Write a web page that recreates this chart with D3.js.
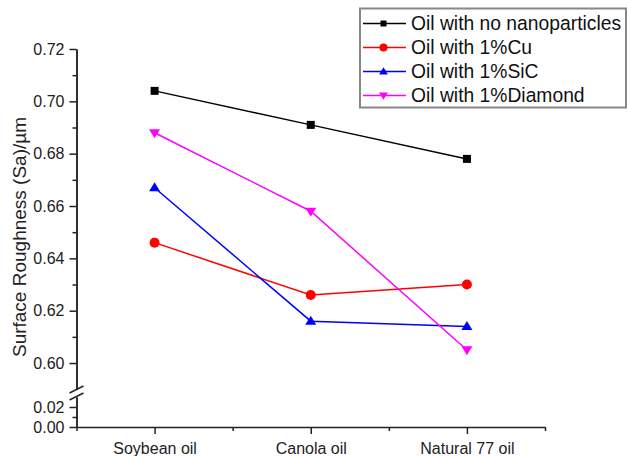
<!DOCTYPE html>
<html>
<head>
<meta charset="utf-8">
<script src="https://cdn.jsdelivr.net/npm/d3@7"></script>
<style>
  html, body { margin: 0; padding: 0; background: #fff; }
  svg { display: block; font-family: 'Liberation Sans', Arial, sans-serif; }
</style>
</head>
<body>
<svg id="chart" width="627" height="456"></svg>
<script>
const categories = ['Soybean oil', 'Canola oil', 'Natural 77 oil']
const noParticles = [0.704, 0.691, 0.678]
const cuValues = [0.646, 0.626, 0.630]
const sicValues = [0.667, 0.616, 0.614]
const diamondValues = [0.688, 0.658, 0.605]
const seriesNames = ['Oil with no nanoparticles', 'Oil with 1%Cu', 'Oil with 1%SiC', 'Oil with 1%Diamond']
const upperTicks = [0.60, 0.62, 0.64, 0.66, 0.68, 0.70, 0.72]
const upperMinor = [0.61, 0.63, 0.65, 0.67, 0.69, 0.71]
const lowerTicks = [0.00, 0.02]
const lowerMinor = [0.01]

const colors = ['#000000', '#ff0000', '#0000ff', '#ff00ff']
const symbols = ['square', 'circle', 'up', 'down']

const series = [noParticles, cuValues, sicValues, diamondValues].map((values, i) => ({
  name: seriesNames[i],
  color: colors[i],
  symbol: symbols[i],
  values: values.map((v, j) => ({ cat: categories[j], value: v })),
}))

const svg = d3.select('#chart')

// x: categories on a point scale, axis from 76.5 to 545
const x = d3.scalePoint().domain(categories).range([76.5, 545]).padding(0.5)
const xMinor = d3.scaleLinear().domain([-0.5, categories.length - 0.5]).range([76.5, 545])

// y: broken axis, upper part 0.59-0.72 and lower part 0-0.03
const yTop = d3.scaleLinear().domain([0.59, 0.72]).range([389.2, 49])
const yBottom = d3.scaleLinear().domain([0, 0.03]).range([427, 397])

const axisColor = '#222'
const fmt = d3.format('.2f')

function styleAxis(g) {
  g.selectAll('path, line').attr('stroke', axisColor).attr('stroke-width', 1.5)
  g.selectAll('text').attr('fill', '#222').style('font-size', '16px').style('font-family', 'Liberation Sans, Arial, sans-serif')
}

// y axes
svg.append('g')
  .attr('transform', 'translate(76.5,0)')
  .call(d3.axisLeft(yTop).tickValues(upperTicks).tickFormat(fmt).tickSize(7).tickSizeOuter(0).tickPadding(5))
  .call(styleAxis)
svg.append('g')
  .attr('transform', 'translate(76.5,0)')
  .call(d3.axisLeft(yTop).tickValues(upperMinor).tickFormat('').tickSize(4).tickSizeOuter(0))
  .call(styleAxis)
svg.append('g')
  .attr('transform', 'translate(76.5,0)')
  .call(d3.axisLeft(yBottom).tickValues(lowerTicks).tickFormat(fmt).tickSize(7).tickSizeOuter(0).tickPadding(5))
  .call(styleAxis)
svg.append('g')
  .attr('transform', 'translate(76.5,0)')
  .call(d3.axisLeft(yBottom).tickValues(lowerMinor).tickFormat('').tickSize(4).tickSizeOuter(0))
  .call(styleAxis)

// break marks
const breakMarks = svg.append('g').attr('stroke', axisColor).attr('stroke-width', 1.5)
;[389.5, 396.5].forEach((cy) => {
  breakMarks.append('line')
    .attr('x1', 69.5).attr('y1', cy + 3.5)
    .attr('x2', 83.5).attr('y2', cy - 3.5)
})

// x axis
svg.append('g')
  .attr('transform', 'translate(0,427)')
  .call(d3.axisBottom(x).tickSize(7).tickSizeOuter(0).tickPadding(9))
  .call(styleAxis)
svg.append('g')
  .attr('transform', 'translate(0,427)')
  .call(d3.axisBottom(xMinor).tickValues(d3.range(-0.5, categories.length, 1)).tickFormat('').tickSize(4).tickSizeOuter(0))
  .call(styleAxis)
  .select('.domain').remove()

// y title
svg.append('text')
  .attr('transform', 'translate(26,237) rotate(-90)')
  .attr('text-anchor', 'middle')
  .attr('fill', '#222')
  .style('font-size', '19px')
  .text('Surface Roughness (Sa)/µm')

function symbolPath(type, size) {
  if (type === 'square') return d3.symbol(d3.symbolSquare, size * size)()
  if (type === 'circle') return d3.symbol(d3.symbolCircle, Math.PI * size * size / 4)()
  const h = size * 0.9
  const w = size * 1.1
  if (type === 'up') return `M0,${-h * 0.6}L${w / 2},${h * 0.4}L${-w / 2},${h * 0.4}Z`
  return `M0,${h * 0.6}L${w / 2},${-h * 0.4}L${-w / 2},${-h * 0.4}Z`
}

const line = d3.line()
  .x((d) => x(d.cat))
  .y((d) => yTop(d.value))

const groups = svg.append('g').selectAll('g.series')
  .data(series)
  .enter()
  .append('g')
  .attr('class', 'series')

groups.append('path')
  .attr('fill', 'none')
  .attr('stroke', (d) => d.color)
  .attr('stroke-width', 1.5)
  .attr('d', (d) => line(d.values))

groups.selectAll('path.marker')
  .data((d) => d.values.map((v) => ({ ...v, color: d.color, symbol: d.symbol })))
  .enter()
  .append('path')
  .attr('class', 'marker')
  .attr('transform', (d) => `translate(${x(d.cat)},${yTop(d.value)})`)
  .attr('fill', (d) => d.color)
  .attr('d', (d) => symbolPath(d.symbol, d.symbol === 'square' ? 8 : 10))

// legend
const legend = svg.append('g')
legend.append('rect')
  .attr('x', 360).attr('y', 8.5)
  .attr('width', 266).attr('height', 99)
  .attr('fill', '#fff')
  .attr('stroke', '#888')
  .attr('stroke-width', 2)

const items = legend.selectAll('g.item')
  .data(series)
  .enter()
  .append('g')
  .attr('class', 'item')
  .attr('transform', (d, i) => `translate(0,${23.5 + i * 24})`)

items.append('line')
  .attr('x1', 363).attr('x2', 406)
  .attr('stroke', (d) => d.color)
  .attr('stroke-width', 1.5)
items.append('path')
  .attr('transform', 'translate(383.5,0)')
  .attr('fill', (d) => d.color)
  .attr('d', (d) => symbolPath(d.symbol, d.symbol === 'square' ? 6 : 8))
items.append('text')
  .attr('x', 411)
  .attr('dy', '0.36em')
  .attr('fill', '#111')
  .style('font-size', '19.3px')
  .text((d) => d.name)
</script>
</body>
</html>
